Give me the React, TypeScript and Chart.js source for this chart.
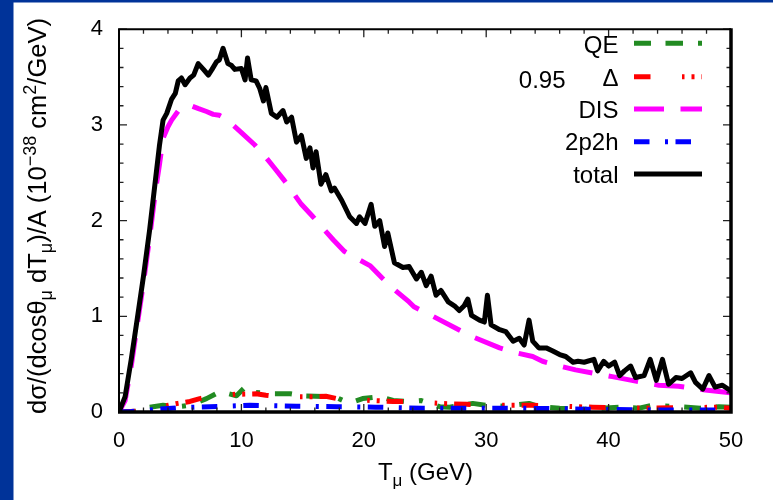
import React, { useEffect, useRef } from 'react';
import { Chart, registerables } from 'chart.js';

Chart.register(...registerables);

const FONT = '"Liberation Sans", Arial, sans-serif';

// total (black)
const totalT = [0, 0.5, 1.0, 1.5, 2.0, 2.5, 3.0, 3.3, 3.6, 3.9, 4.3, 4.6, 4.84, 5.1, 5.4, 5.8, 6.1, 6.47, 6.9, 7.3, 7.6, 7.97, 8.2, 8.5, 8.9, 9.2, 9.46, 10.0, 10.3, 10.5, 10.8, 11.2, 11.5, 11.8, 12.0, 12.45, 12.9, 13.4, 13.7, 14.1, 14.5, 14.9, 15.3, 15.6, 15.85, 16.1, 16.5, 16.9, 17.35, 17.6, 18.2, 18.85, 19.4, 19.65, 20.1, 20.6, 20.9, 21.3, 21.7, 21.96, 22.5, 23.2, 23.7, 24.3, 24.7, 25.1, 25.5, 25.9, 26.3, 26.9, 27.4, 27.8, 28.2, 28.5, 28.8, 29.45, 29.85, 30.1, 30.4, 31.1, 31.6, 32.2, 32.7, 33.1, 33.5, 33.8, 34.3, 34.9, 35.4, 36.0, 36.5, 37.1, 37.5, 38.0, 38.8, 39.1, 39.6, 40.0, 40.5, 40.9, 41.3, 41.8, 42.2, 42.9, 43.4, 43.9, 44.4, 44.9, 45.5, 46.0, 46.7, 47.1, 47.7, 48.2, 48.7, 49.3, 50.0];
const totalV = [0, 0.16, 0.55, 0.98, 1.42, 1.9, 2.45, 2.78, 3.05, 3.12, 3.27, 3.33, 3.46, 3.49, 3.42, 3.49, 3.52, 3.64, 3.58, 3.52, 3.58, 3.66, 3.68, 3.80, 3.64, 3.62, 3.58, 3.59, 3.47, 3.70, 3.47, 3.46, 3.38, 3.25, 3.39, 3.12, 3.08, 3.15, 3.03, 3.08, 2.82, 2.89, 2.65, 2.76, 2.55, 2.72, 2.38, 2.48, 2.31, 2.34, 2.21, 2.04, 1.97, 2.04, 1.97, 2.17, 1.94, 2.00, 1.73, 1.87, 1.56, 1.51, 1.52, 1.39, 1.46, 1.32, 1.42, 1.22, 1.27, 1.15, 1.11, 1.06, 1.11, 1.18, 1.01, 0.96, 0.94, 1.22, 0.91, 0.86, 0.84, 0.74, 0.77, 0.70, 0.96, 0.74, 0.67, 0.67, 0.64, 0.60, 0.58, 0.52, 0.53, 0.52, 0.55, 0.43, 0.53, 0.48, 0.52, 0.38, 0.43, 0.48, 0.36, 0.38, 0.55, 0.33, 0.55, 0.29, 0.36, 0.35, 0.41, 0.31, 0.24, 0.38, 0.26, 0.28, 0.22];

// DIS (magenta)
const disT = [0, 0.5, 1.0, 1.5, 2.0, 2.5, 3.0, 3.3, 3.6, 4.0, 4.3, 4.98, 5.5, 5.9, 6.5, 7.15, 7.7, 8.2, 8.65, 9.2, 10.0, 11.1, 12.0, 12.7, 13.5, 14.9, 15.85, 16.8, 17.5, 18.4, 19.5, 20.5, 21.5, 22.4, 23.7, 24.1, 25.5, 27.6, 28.8, 31.1, 32.4, 33.8, 34.6, 36.0, 37.3, 40.3, 41.9, 44.1, 45.7, 47.9, 50];
const disV = [0, 0.12, 0.48, 0.92, 1.35, 1.82, 2.33, 2.58, 2.86, 2.98, 3.05, 3.17, 3.18, 3.20, 3.17, 3.14, 3.11, 3.10, 3.07, 3.01, 2.92, 2.79, 2.66, 2.55, 2.42, 2.17, 2.04, 1.90, 1.80, 1.68, 1.60, 1.53, 1.40, 1.29, 1.15, 1.10, 1.01, 0.87, 0.79, 0.67, 0.62, 0.58, 0.53, 0.48, 0.44, 0.37, 0.33, 0.28, 0.27, 0.23, 0.20];

// QE (green)
const qeT = [0, 1, 2, 2.5, 3.6, 4.7, 5.8, 7.15, 8.2, 9.0, 9.6, 10.3, 10.7, 11.5, 12.5, 14.0, 15.0, 16.9, 17.8, 18.8, 19.9, 21.3, 22.4, 23.7, 24.7, 26.2, 27.0, 28.9, 30, 31.5, 33.5, 34.3, 36, 38, 40.9, 42.5, 43.6, 45.8, 47.5, 49, 50];
const qeV = [0, 0, 0.02, 0.05, 0.07, 0.055, 0.07, 0.14, 0.21, 0.19, 0.17, 0.26, 0.21, 0.20, 0.19, 0.19, 0.17, 0.16, 0.15, 0.09, 0.14, 0.16, 0.12, 0.11, 0.12, 0.055, 0.05, 0.09, 0.07, 0.06, 0.09, 0.055, 0.04, 0.03, 0.05, 0.04, 0.07, 0.055, 0.04, 0.055, 0.05];

// Delta (red)
const deltaT = [0, 2, 3, 4, 4.8, 5.8, 6.6, 8, 9.5, 11.2, 12.0, 13, 14.5, 15.85, 16.9, 17.8, 19, 20.7, 22.4, 23.5, 25, 26.2, 28.4, 30, 31.9, 33.8, 36, 38.7, 41, 43.6, 46, 49, 50];
const deltaV = [0, 0.01, 0.03, 0.07, 0.09, 0.11, 0.14, 0.17, 0.185, 0.19, 0.175, 0.16, 0.16, 0.16, 0.165, 0.14, 0.13, 0.12, 0.11, 0.11, 0.10, 0.09, 0.08, 0.075, 0.07, 0.07, 0.06, 0.05, 0.045, 0.04, 0.045, 0.05, 0.04];

// 2p2h (blue)
const mecT = [0, 1, 3.3, 5, 7.4, 10.7, 14.5, 17.8, 21.0, 24.8, 28.1, 32.7, 38.1, 43.6, 49, 50];
const mecV = [0, 0.005, 0.03, 0.045, 0.055, 0.07, 0.06, 0.055, 0.05, 0.04, 0.04, 0.04, 0.03, 0.02, 0.02, 0.02];

const legendLabels = ['QE', '\u0394', 'DIS', '2p2h', 'total'];
const legendNote = '0.95';

const COLORS = ['#228b22', '#ff0000', '#ff00ff', '#0000ff', '#000000'];
const DASHES: number[][] = [
  [17, 14.5, 17.5, 15, 4, 15],
  [16.5, 31.5, 2.5, 7, 3, 7],
  [30, 16.5],
  [15.5, 15.5, 3, 7.5],
  [],
];

const pts = (xs: number[], ys: number[]) => xs.map((x, i) => ({ x, y: ys[i] }));

type Part = { t: string; k: 'n' | 'sub' | 'sup' };

function drawRich(ctx: CanvasRenderingContext2D, parts: Part[], cx: number, baseY: number, size: number, small: number, subOff: number, supOff: number) {
  const fontFor = (k: string) => `${k === 'n' ? size : small}px ${FONT}`;
  let w = 0;
  for (const p of parts) {
    ctx.font = fontFor(p.k);
    w += ctx.measureText(p.t).width;
  }
  let x = cx - w / 2;
  ctx.textAlign = 'left';
  ctx.textBaseline = 'alphabetic';
  for (const p of parts) {
    ctx.font = fontFor(p.k);
    const y = p.k === 'sub' ? baseY + subOff : p.k === 'sup' ? baseY - supOff : baseY;
    ctx.fillText(p.t, x, y);
    x += ctx.measureText(p.t).width;
  }
}

const bgPlugin = {
  id: 'bg',
  beforeDraw(chart: any) {
    const ctx = chart.ctx as CanvasRenderingContext2D;
    ctx.save();
    ctx.fillStyle = '#ffffff';
    ctx.fillRect(0, 0, chart.width, chart.height);
    ctx.fillStyle = '#003399';
    ctx.fillRect(0, 0, chart.width, 2.5);
    ctx.fillRect(0, 0, 13.5, chart.height);
    ctx.restore();
  },
};

const framePlugin = {
  id: 'frame',
  afterDraw(chart: any) {
    const ctx = chart.ctx as CanvasRenderingContext2D;
    const a = chart.chartArea;
    const xs = chart.scales.x;
    const ys = chart.scales.y;
    ctx.save();
    ctx.strokeStyle = '#222';
    ctx.lineWidth = 1.3;
    ctx.beginPath();
    for (let i = 0; i <= 25; i++) {
      const v = i * 2;
      const px = xs.getPixelForValue(v);
      const len = v % 10 === 0 ? 8 : 4.5;
      ctx.moveTo(px, a.bottom);
      ctx.lineTo(px, a.bottom - len);
      ctx.moveTo(px, a.top);
      ctx.lineTo(px, a.top + len);
    }
    for (let i = 0; i <= 20; i++) {
      const py = ys.getPixelForValue(i * 0.2);
      const len = i % 5 === 0 ? 8 : 4.5;
      ctx.moveTo(a.left, py);
      ctx.lineTo(a.left + len, py);
      ctx.moveTo(a.right, py);
      ctx.lineTo(a.right - len, py);
    }
    ctx.stroke();
    ctx.strokeStyle = '#000';
    ctx.lineWidth = 2;
    ctx.beginPath();
    ctx.moveTo(a.left, a.bottom);
    ctx.lineTo(a.left, a.top);
    ctx.lineTo(a.right, a.top);
    ctx.stroke();
    ctx.lineWidth = 3.5;
    ctx.beginPath();
    ctx.moveTo(a.left - 1, a.bottom);
    ctx.lineTo(a.right, a.bottom);
    ctx.moveTo(a.right, a.bottom + 1.7);
    ctx.lineTo(a.right, a.top - 1);
    ctx.stroke();

    // legend
    ctx.fillStyle = '#000';
    ctx.font = `24px ${FONT}`;
    ctx.textAlign = 'right';
    ctx.textBaseline = 'alphabetic';
    const baselines = [52.5, 85.5, 117.5, 150, 182.5];
    const lineYs = [43.3, 76.7, 109, 141.7, 174];
    legendLabels.forEach((lab, i) => {
      ctx.fillText(lab, 618.5, baselines[i]);
      ctx.save();
      ctx.strokeStyle = COLORS[i];
      ctx.lineWidth = 5;
      ctx.lineCap = 'butt';
      ctx.setLineDash(DASHES[i]);
      ctx.beginPath();
      ctx.moveTo(634, lineYs[i]);
      ctx.lineTo(702, lineYs[i]);
      ctx.stroke();
      ctx.restore();
    });
    ctx.fillText(legendNote, 565.5, 88);

    // axis titles
    drawRich(ctx, [
      { t: 'T', k: 'n' },
      { t: '\u03bc', k: 'sub' },
      { t: ' (GeV)', k: 'n' },
    ], 425.5, 480, 24, 17, 6, 9);

    ctx.save();
    ctx.translate(0, 216);
    ctx.rotate(-Math.PI / 2);
    drawRich(ctx, [
      { t: 'd\u03c3/(dcos\u03b8', k: 'n' },
      { t: '\u03bc', k: 'sub' },
      { t: ' dT', k: 'n' },
      { t: '\u03bc', k: 'sub' },
      { t: ')/A (10', k: 'n' },
      { t: '\u221238', k: 'sup' },
      { t: ' cm', k: 'n' },
      { t: '2', k: 'sup' },
      { t: '/GeV)', k: 'n' },
    ], 0, 46, 25.5, 18, 6, 10);
    ctx.restore();
    ctx.restore();
  },
};

export default function App() {
  const ref = useRef<HTMLCanvasElement>(null);
  useEffect(() => {
    const canvas = ref.current;
    if (!canvas) return;
    const labels = ['total', '2p2h', 'DIS', 'Delta', 'QE'];
    const series = [
      pts(totalT, totalV),
      pts(mecT, mecV),
      pts(disT, disV),
      pts(deltaT, deltaV),
      pts(qeT, qeV),
    ];
    const idx = [4, 3, 2, 1, 0];
    const chart = new Chart(canvas, {
      type: 'line',
      data: {
        datasets: series.map((d, j) => ({
          label: labels[j],
          data: d,
          borderColor: COLORS[idx[j]],
          borderDash: DASHES[idx[j]],
          borderWidth: 5,
          pointRadius: 0,
          tension: 0,
          fill: false,
          borderCapStyle: 'butt',
          borderJoinStyle: 'round',
        })),
      },
      options: {
        responsive: false,
        animation: false,
        events: [],
        layout: { padding: { top: 21, right: 42, left: 0, bottom: 0 } },
        plugins: { legend: { display: false }, tooltip: { enabled: false } },
        scales: {
          x: {
            type: 'linear',
            min: 0,
            max: 50,
            ticks: { stepSize: 10, color: '#000', font: { family: FONT, size: 22 }, padding: 16 },
            grid: { display: false, drawTicks: false },
            border: { display: false },
            afterFit: (s: any) => { s.height = 88; },
          },
          y: {
            type: 'linear',
            min: 0,
            max: 4,
            ticks: { stepSize: 1, color: '#000', font: { family: FONT, size: 22 }, padding: 16 },
            grid: { display: false, drawTicks: false },
            border: { display: false },
            afterFit: (s: any) => { s.width = 119; },
          },
        },
      } as any,
      plugins: [bgPlugin, framePlugin],
    });
    return () => chart.destroy();
  }, []);
  return (
    <div style={{ position: 'fixed', left: 0, top: 0, width: 773, height: 500 }}>
      <canvas ref={ref} width={773} height={500} style={{ display: 'block' }} />
    </div>
  );
}
